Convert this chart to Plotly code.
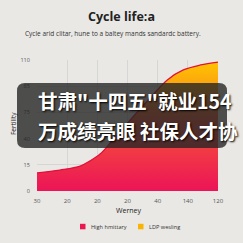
import plotly.graph_objects as go

# ---- data ----
x_ticklabels = ["30", "20", "20", "20", "40", "140", "120"]
y_ticklabels = ["0", "15", "40", "75", "85", "110"]
curve_x = [0, 0.76, 1.43, 1.76, 2.09, 2.43, 2.76, 3.09, 3.42, 3.75, 4.32, 4.85, 5.42, 6.0]
curve_y = [0.69, 0.80, 0.95, 1.15, 1.41, 1.83, 2.25, 2.71, 3.13, 3.55, 4.24, 4.62, 4.81, 4.92]
legend_names = ["High hmittary", "LDP wesling"]
legend_colors = ["#ec1650", "#f8b400"]
title_text = "Cycle life:a"
subtitle_text = "Cycle arid clitar, hune to a baltey mands sandardc battery."
xaxis_title = "Werney"
yaxis_title = "Fertility"
overlay_lines = ["甘肃\"十四五\"就业154", "万成绩亮眼 社保人才协"]

BG = "#e9e8e5"
W = H = 243
L, R, T, B = 37, 25, 60, 52
pw, ph = W - L - R, H - T - B

def px_x(p):
    return (p - L) / pw

def px_y(p):
    return (H - B - p) / ph

fig = go.Figure()
fig.add_trace(go.Scatter(
    x=curve_x, y=curve_y, mode="lines", line=dict(color="#e3103c", width=1.3, shape="spline"),
    fill="tozeroy",
    fillgradient=dict(type="vertical", colorscale=[
        [0.0, "#ec1457"], [0.3, "#f13845"], [0.55, "#f4543a"],
        [0.78, "#fa9c12"], [1.0, "#ffc400"]]),
    showlegend=False, hoverinfo="skip"))

# legend (drawn as swatches + labels)
for name, col, sx in zip(legend_names, legend_colors, [80, 138]):
    fig.add_shape(type="rect", xref="paper", yref="paper",
                  x0=px_x(sx), x1=px_x(sx + 5.5), y0=px_y(229.3), y1=px_y(223.8),
                  fillcolor=col, line=dict(width=0))
    fig.add_annotation(text=name, xref="paper", yref="paper", x=px_x(sx + 8.5), y=px_y(226.5),
                       xanchor="left", yanchor="middle", showarrow=False,
                       font=dict(family="Open Sans", size=5.6, color="#333"))

# overlay rounded box
x0, x1 = px_x(17), px_x(227)
y0, y1 = px_y(148), px_y(83)
rx, ry = 8 / pw, 8 / ph
path = (f"M {x0+rx},{y1} L {x1-rx},{y1} Q {x1},{y1} {x1},{y1-ry} "
        f"L {x1},{y0+ry} Q {x1},{y0} {x1-rx},{y0} L {x0+rx},{y0} "
        f"Q {x0},{y0} {x0},{y0+ry} L {x0},{y1-ry} Q {x0},{y1} {x0+rx},{y1} Z")
fig.add_shape(type="path", path=path, xref="paper", yref="paper",
              fillcolor="rgba(38,38,38,0.80)", line=dict(width=0), layer="above")

for txt, py in zip(overlay_lines, [100, 130]):
    fig.add_annotation(text=txt, xref="paper", yref="paper", x=px_x(36), y=px_y(py),
                       xanchor="left", yanchor="middle", showarrow=False,
                       font=dict(family="Noto Sans CJK SC", size=19.5, color="white",
                                 weight="bold", shadow="1px 1px 2px #000"))

fig.add_annotation(text=subtitle_text, xref="paper", yref="paper", x=px_x(112.5), y=px_y(33),
                   xanchor="center", yanchor="middle", showarrow=False,
                   font=dict(family="Open Sans", size=6.5, color="#333"))

fig.add_annotation(text=yaxis_title, xref="paper", yref="paper", x=px_x(13), y=px_y(124),
                   xanchor="center", yanchor="middle", showarrow=False, textangle=-90,
                   font=dict(family="Open Sans", size=6.5, color="#222"))

fig.add_annotation(text=xaxis_title, xref="paper", yref="paper", x=px_x(128), y=px_y(210.5),
                   xanchor="center", yanchor="middle", showarrow=False,
                   font=dict(family="Open Sans", size=7, color="#222"))

fig.update_layout(
    width=W, height=H, margin=dict(l=L, r=R, t=T, b=B, autoexpand=False),
    paper_bgcolor=BG, plot_bgcolor=BG,
    title=dict(text=f"<b>{title_text}</b>", x=0.5, xanchor="center", y=1 - 17 / H,
               yanchor="middle", font=dict(family="Open Sans", size=12.5, color="#222")),
    xaxis=dict(range=[0, 6], tickvals=list(range(7)), ticktext=x_ticklabels,
               showgrid=True, gridcolor="#d6d6d4", gridwidth=1, zeroline=False,
               showline=False, tickfont=dict(family="Open Sans", size=6, color="#555"),
               ticks="outside", ticklen=4, tickcolor="rgba(0,0,0,0)"),
    yaxis=dict(range=[0, 5], tickvals=list(range(6)), ticktext=y_ticklabels,
               showgrid=True, gridcolor="#d6d6d4", gridwidth=1, zeroline=False,
               showline=False, tickfont=dict(family="Open Sans", size=5.5, color="#555"),
               ticks="outside", ticklen=5, tickcolor="rgba(0,0,0,0)"),
    showlegend=False,
)

fig.write_html("out.html")
